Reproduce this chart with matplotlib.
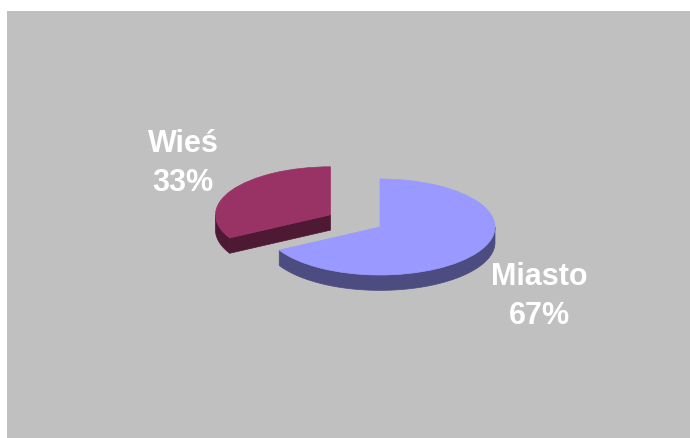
import numpy as np
import matplotlib
matplotlib.use("Agg")
import matplotlib.pyplot as plt
from matplotlib.patches import Wedge, Polygon, Rectangle

categories = ["Miasto", "Wieś"]
values = [67, 33]
top_colors = ["#9999FF", "#993366"]
side_colors = ["#4C4C80", "#4D1933"]
explode = [0.0, 0.5]
# label anchor (name baseline) in pie units relative to pie centre
label_pos = [(1.383, -1.208), (-1.713, 1.5625)]

plt.rcParams['font.family'] = ['Liberation Sans', 'DejaVu Sans']

W, H = 690, 438
fig = plt.figure(figsize=(W / 100, H / 100), dpi=100)
fig.patch.set_facecolor('white')
fig.add_artist(Rectangle((7 / W, 0), (W - 7) / W, (H - 11) / H,
                         transform=fig.transFigure, facecolor='#C0C0C0',
                         edgecolor='none', zorder=0))

ax = fig.add_axes([0, 0, 1, 1])
ax.set_axis_off()
ax.patch.set_alpha(0)
cx_px, cy_px, rx_px, ry_px = 380, 227, 115, 48
ax.set_xlim(-cx_px / rx_px, (W - cx_px) / rx_px)
ax.set_ylim((cy_px - H) / ry_px, cy_px / ry_px)

depth = 0.32
total = float(sum(values))

a = 90.0
for i, v in enumerate(values):
    span = v / total * 360.0
    t2 = a
    t1 = a - span
    a = t1
    mid = np.radians((t1 + t2) / 2)
    c = np.array([explode[i] * np.cos(mid), explode[i] * np.sin(mid)])

    # radial faces
    for th, sgn in ((t1, -1), (t2, 1)):
        nrm = np.radians(th + sgn * 90)
        if np.sin(nrm) < -1e-6:
            p = c + np.array([np.cos(np.radians(th)), np.sin(np.radians(th))])
            poly = [c, p, p - [0, depth], c - [0, depth]]
            ax.add_patch(Polygon(poly, closed=True, facecolor=side_colors[i],
                                 edgecolor=side_colors[i], lw=0.5, zorder=2 + 3 * i))

    # outer side
    th = np.radians(np.linspace(t1, t2, 400))
    mask = np.sin(th) <= 0
    if mask.sum() > 1:
        ths = th[mask]
        xs = c[0] + np.cos(ths)
        ys = c[1] + np.sin(ths)
        pts = np.column_stack([np.r_[xs, xs[::-1]], np.r_[ys, ys[::-1] - depth]])
        ax.add_patch(Polygon(pts, closed=True, facecolor=side_colors[i],
                             edgecolor=side_colors[i], lw=0.5, zorder=2 + 3 * i))

    # top
    ax.add_patch(Wedge(tuple(c), 1.0, t1, t2, facecolor=top_colors[i],
                       edgecolor=top_colors[i], lw=0.5, zorder=3 + 3 * i))

    lx, ly = label_pos[i]
    ax.text(lx, ly, categories[i], color='white', fontsize=22, fontweight='bold',
            ha='center', va='baseline', zorder=20)
    ax.annotate(f"{round(v / total * 100)}%", xy=(lx, ly), xytext=(0, -28),
                textcoords='offset points', color='white', fontsize=22,
                fontweight='bold', ha='center', va='baseline', zorder=20)

fig.savefig("out.png", dpi=100, facecolor=fig.get_facecolor())
